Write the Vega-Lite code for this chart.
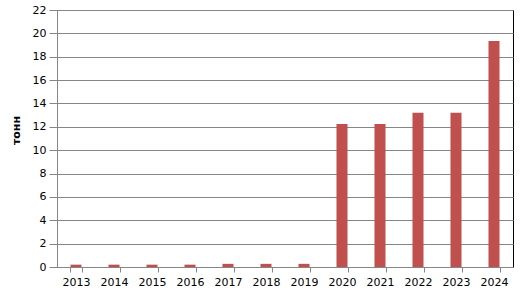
{
  "$schema": "https://vega.github.io/schema/vega-lite/v6.json",
  "width": 456,
  "height": 257,
  "autosize": "none",
  "padding": {"left": 57, "top": 10, "right": 9, "bottom": 31},
  "background": "white",
  "config": {
    "view": {"stroke": "black", "strokeWidth": 1},
    "font": "DejaVu Sans"
  },
  "data": {
    "values": [
      {"year": "2013", "value": 0.2},
      {"year": "2014", "value": 0.2},
      {"year": "2015", "value": 0.2},
      {"year": "2016", "value": 0.2},
      {"year": "2017", "value": 0.27},
      {"year": "2018", "value": 0.27},
      {"year": "2019", "value": 0.27},
      {"year": "2020", "value": 12.25},
      {"year": "2021", "value": 12.25},
      {"year": "2022", "value": 13.2},
      {"year": "2023", "value": 13.2},
      {"year": "2024", "value": 19.35}
    ]
  },
  "mark": {"type": "bar", "color": "#C0504D"},
  "encoding": {
    "x": {
      "field": "year",
      "type": "ordinal",
      "scale": {"paddingInner": 0.71, "paddingOuter": 0.355},
      "axis": {
        "title": null,
        "labelAngle": 0,
        "labelFont": "DejaVu Sans",
        "labelFontSize": 11,
        "labelColor": "black",
        "labelPadding": 4,
        "tickBand": "extent",
        "tickSize": 5,
        "tickColor": "#868686",
        "domainColor": "#868686",
        "grid": false
      }
    },
    "y": {
      "field": "value",
      "type": "quantitative",
      "scale": {"domain": [0, 22], "nice": false},
      "axis": {
        "title": "тонн",
        "titleFont": "DejaVu Sans",
        "titleFontSize": 11,
        "titleFontWeight": "bold",
        "titleColor": "black",
        "titleX": -36,
        "titleY": 120,
        "titleAngle": -90,
        "titleAlign": "center",
        "titleBaseline": "bottom",
        "values": [0, 2, 4, 6, 8, 10, 12, 14, 16, 18, 20, 22],
        "labelFont": "DejaVu Sans",
        "labelFontSize": 11,
        "labelColor": "black",
        "labelPadding": 3,
        "tickSize": 8,
        "tickColor": "#868686",
        "domainColor": "#868686",
        "gridColor": "#868686",
        "gridOpacity": 1
      }
    }
  }
}
